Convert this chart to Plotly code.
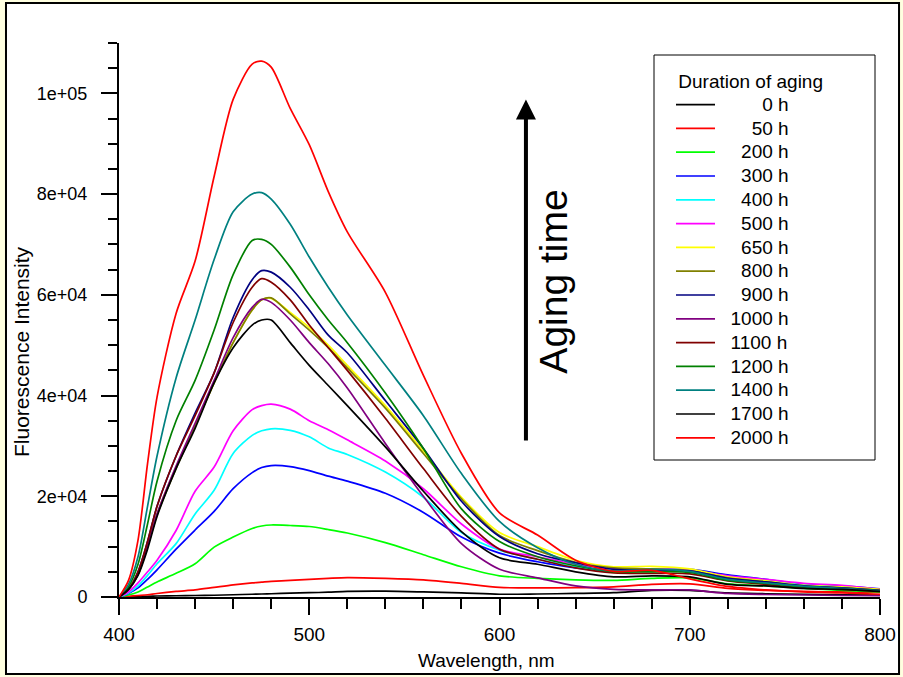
import plotly.graph_objects as go

# Wavelength grid (nm)
wavelength = [400, 405, 410, 415, 420, 430, 440, 450, 460, 470, 475, 480, 490, 500, 510,
              520, 540, 560, 580, 600, 620, 640, 660, 680, 700, 720, 740, 760, 780, 800]

# Fluorescence intensity per aging duration
h0 = [0, 50, 100, 150, 200, 250, 300, 350, 450, 550, 600, 650, 750, 850, 950,
      1100, 1150, 1000, 800, 550, 600, 700, 850, 1300, 1300, 800, 650, 550, 450, 400]
h50 = [0, 150, 300, 450, 700, 1100, 1400, 1900, 2400, 2800, 2950, 3100, 3300, 3500, 3700,
       3850, 3700, 3400, 2700, 1900, 1800, 1850, 2000, 2500, 2600, 1700, 1300, 1100, 1000, 900]
h200 = [0, 400, 1000, 2000, 3000, 4700, 6600, 9900, 11900, 13600, 14100, 14300, 14200, 14000, 13400,
        12700, 10800, 8400, 6000, 4200, 3700, 3400, 3300, 3700, 3800, 2600, 2200, 1700, 1300, 1000]
h300 = [0, 700, 1800, 3500, 5400, 9500, 13300, 17000, 21500, 24700, 25700, 26100, 25900, 25100, 24000,
        23000, 20600, 16800, 11900, 8700, 7000, 5800, 5200, 5400, 5500, 4400, 3500, 2500, 2200, 1600]
h400 = [0, 800, 2200, 4300, 6600, 10600, 16500, 21200, 28500, 32100, 33000, 33400, 33100, 31800, 29600,
        28300, 24800, 19800, 12800, 9300, 7500, 6000, 5200, 5500, 5300, 4000, 3200, 2400, 2000, 1400]
h500 = [0, 1000, 2800, 5000, 7300, 13200, 21000, 25800, 33000, 37200, 38000, 38300, 37300, 35000, 33200,
        31200, 27000, 21500, 14500, 9500, 8000, 6500, 5600, 5600, 5300, 4200, 3500, 2700, 2300, 1500]
h650 = [0, 1500, 4500, 10000, 16500, 25800, 34000, 42500, 50500, 57000, 59000, 59300, 56500, 53500, 50000,
        46000, 38000, 29000, 19800, 12800, 10000, 7300, 6000, 6100, 5600, 4000, 3200, 2300, 2000, 1500]
h800 = [0, 1500, 4500, 10000, 16300, 25500, 34000, 42500, 50500, 57000, 59000, 59400, 56200, 53000, 49500,
        45500, 37500, 28500, 19500, 12200, 9200, 6900, 5800, 5600, 5200, 3800, 3000, 2100, 1800, 1300]
h900 = [0, 1500, 5000, 11000, 18000, 28000, 36500, 44500, 55500, 63000, 64800, 64500, 61500, 57000, 52000,
        48500, 39000, 29500, 19000, 12000, 8600, 6800, 5500, 5300, 5200, 3700, 3000, 2200, 1800, 1300]
h1000 = [0, 1500, 4500, 10000, 16500, 26000, 34500, 43000, 51500, 57500, 59100, 58500, 55000, 50500, 46300,
         41500, 30500, 20000, 10600, 5500, 3800, 2200, 1500, 1400, 1400, 700, 500, 400, 300, 250]
h1100 = [0, 1500, 5000, 11000, 18000, 28000, 36000, 44500, 54500, 61500, 63200, 62500, 59000, 54000, 49500,
         45000, 35500, 25500, 16000, 9500, 7500, 5800, 4800, 4700, 4600, 3200, 2500, 1800, 1500, 1100]
h1200 = [0, 2000, 6500, 14500, 23000, 35000, 43000, 53000, 64000, 70800, 71000, 70000, 65500, 60000, 55000,
         50500, 40500, 29500, 17500, 11000, 8000, 6200, 5000, 5000, 4900, 3300, 2700, 2000, 1600, 1200]
h1400 = [0, 2500, 8000, 18000, 28000, 43500, 55000, 67000, 76500, 80000, 80300, 79000, 74000, 67500, 61500,
         56000, 46000, 36000, 24500, 15000, 9800, 6500, 5200, 5500, 5100, 3500, 2800, 2100, 1700, 1200]
h1700 = [0, 1500, 4300, 9500, 16000, 25500, 33500, 42500, 49500, 54000, 55000, 55000, 50500, 46000, 42000,
         38000, 29800, 21000, 13000, 7800, 6500, 5000, 4000, 4200, 4000, 2500, 2200, 1700, 1500, 1100]
h2000 = [0, 3300, 11300, 26500, 39700, 56300, 66700, 83500, 98800, 105800, 106400, 105200, 97000, 89800, 80500,
         72500, 60500, 44000, 28500, 16700, 12300, 7300, 5100, 5300, 3600, 2100, 1400, 1000, 800, 550]

durations = ["0 h", "50 h", "200 h", "300 h", "400 h", "500 h", "650 h", "800 h",
             "900 h", "1000 h", "1100 h", "1200 h", "1400 h", "1700 h", "2000 h"]
series = [h0, h50, h200, h300, h400, h500, h650, h800, h900, h1000, h1100, h1200, h1400, h1700, h2000]
colors = ["#000000", "#FF0000", "#00FF00", "#0000FF", "#00FFFF", "#FF00FF", "#FFFF00", "#808000",
          "#000080", "#800080", "#800000", "#008000", "#008080", "#000000", "#FF0000"]

y_tickvals = [0, 20000, 40000, 60000, 80000, 100000]
y_ticktext = ["0", "2e+04", "4e+04", "6e+04", "8e+04", "1e+05"]
x_tickvals = [400, 500, 600, 700, 800]

FONT = "Liberation Sans, Arial, sans-serif"
NB = "\u00a0"

fig = go.Figure()
for name, vals, col in zip(durations, series, colors):
    pad = NB * (2 + 2 * (6 - len(name)))
    label = '<span style="font-size:19px">' + pad + name + NB * 16 + '</span>'
    fig.add_trace(go.Scatter(
        x=wavelength, y=vals, mode="lines", name=label,
        line=dict(color=col, width=1.7, shape="spline", smoothing=0.8),
    ))

fig.update_layout(
    width=903, height=677,
    margin=dict(l=119, r=23, t=43, b=80, autoexpand=False),
    paper_bgcolor="#FFFFE0",
    plot_bgcolor="#FFFFFF",
    font=dict(family=FONT, color="black", size=18),
    showlegend=True,
    legend=dict(
        x=(671 - 119) / 761, y=(597 - 63) / 554, xanchor="left", yanchor="top",
        bgcolor="rgba(0,0,0,0)", borderwidth=0, tracegroupgap=0,
        font=dict(family=FONT, size=16, color="black"),
        title=dict(text=NB + "Duration of aging", font=dict(family=FONT, size=19)),
        itemwidth=39,
    ),
    xaxis=dict(
        range=[400, 800], tickvals=x_tickvals, ticks="outside", ticklen=16, tickwidth=2,
        tickcolor="black", showline=True, linewidth=2, linecolor="black",
        showgrid=False, zeroline=False, tickfont=dict(size=19), automargin=False,
        minor=dict(ticks="outside", ticklen=10, tickwidth=2, tickcolor="black", dtick=20, tick0=400, showgrid=False),
        ticklabelstandoff=3,
    ),
    yaxis=dict(
        range=[0, 110000], tickvals=y_tickvals, ticktext=y_ticktext, ticks="outside", ticklen=16,
        tickwidth=2, tickcolor="black", showline=True, linewidth=2, linecolor="black",
        showgrid=False, zeroline=False, tickfont=dict(size=18), automargin=False,
        minor=dict(ticks="outside", ticklen=9, tickwidth=2, tickcolor="black", dtick=5000, tick0=0, showgrid=False),
        ticklabelstandoff=10,
    ),
    shapes=[
        dict(type="rect", xref="paper", yref="paper", x0=-0.1485, x1=1.025, y0=-0.139, y1=1.0722,
             line=dict(color="black", width=2), fillcolor="white", layer="below"),
        dict(type="rect", xref="paper", yref="paper",
             x0=(654 - 119) / 761, x1=(875 - 119) / 761, y0=(597 - 460) / 554, y1=(597 - 55) / 554,
             line=dict(color="black", width=1), fillcolor="white", layer="above"),
    ],
    annotations=[
        dict(x=613.9, y=98800, ax=613.9, ay=30800, xref="x", yref="y", axref="x", ayref="y",
             text="", showarrow=True, arrowhead=2, arrowsize=1, arrowwidth=4, arrowcolor="black"),
        dict(x=628.6, y=62600, xref="x", yref="y", text="Aging time", textangle=-90,
             showarrow=False, font=dict(family=FONT, size=39, color="black")),
        dict(x=(22 - 119) / 761, y=(597 - 352) / 554, xref="paper", yref="paper",
             xanchor="center", yanchor="middle",
             text="Fluorescence Intensity", textangle=-90, showarrow=False,
             font=dict(family=FONT, size=21, color="black")),
        dict(x=(486 - 119) / 761, y=(597 - 660) / 554, xref="paper", yref="paper",
             xanchor="center", yanchor="middle",
             text="Wavelength, nm", showarrow=False,
             font=dict(family=FONT, size=19, color="black")),
    ],
)

fig.write_html(
    "out.html",
    config={"displayModeBar": False},
    post_script=("document.body.style.margin='0px';document.body.style.padding='0px';"
                 "document.body.style.overflow='hidden';document.body.style.background='#FFFFE0';"),
)
